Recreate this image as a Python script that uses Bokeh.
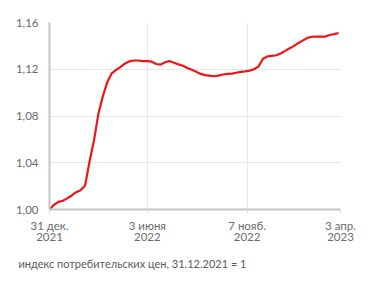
from datetime import datetime
from bokeh.plotting import figure
from bokeh.models import FixedTicker, Range1d, Title
from bokeh.embed import file_html
from bokeh.resources import INLINE

dates = [
    "2021-12-31",
    "2022-01-07", "2022-01-14", "2022-01-21", "2022-01-28",
    "2022-02-04", "2022-02-11", "2022-02-18", "2022-02-25",
    "2022-03-04", "2022-03-11", "2022-03-18", "2022-03-25",
    "2022-04-01", "2022-04-08", "2022-04-15", "2022-04-22", "2022-04-29",
    "2022-05-06", "2022-05-13", "2022-05-20", "2022-05-27",
    "2022-06-03", "2022-06-10", "2022-06-17", "2022-06-24",
    "2022-07-01", "2022-07-08", "2022-07-15", "2022-07-22", "2022-07-29",
    "2022-08-05", "2022-08-12", "2022-08-19", "2022-08-26",
    "2022-09-02", "2022-09-09", "2022-09-16", "2022-09-23", "2022-09-30",
    "2022-10-07", "2022-10-14", "2022-10-21", "2022-10-28",
    "2022-11-04", "2022-11-11", "2022-11-18", "2022-11-25",
    "2022-12-02", "2022-12-09", "2022-12-16", "2022-12-23", "2022-12-30",
    "2023-01-06", "2023-01-13", "2023-01-20", "2023-01-27",
    "2023-02-03", "2023-02-10", "2023-02-17", "2023-02-24",
    "2023-03-03", "2023-03-10", "2023-03-17", "2023-03-24", "2023-03-31",
]
cpi = [
    1.000,
    1.004, 1.0065, 1.0075, 1.0095,
    1.012, 1.0148, 1.0165, 1.0205,
    1.041, 1.059, 1.082, 1.097,
    1.109, 1.1165, 1.1195, 1.122, 1.125,
    1.1268, 1.1275, 1.1275, 1.127,
    1.127, 1.1265, 1.1245, 1.124,
    1.126, 1.127, 1.1255, 1.1242, 1.123,
    1.121, 1.1195, 1.1178, 1.116,
    1.115, 1.1145, 1.114, 1.1145, 1.1155,
    1.116, 1.1163, 1.117, 1.1177,
    1.1182, 1.1188, 1.120, 1.1225,
    1.129, 1.131, 1.1315, 1.132, 1.1335,
    1.1357, 1.138, 1.140, 1.1425,
    1.1447, 1.1468, 1.1478, 1.148,
    1.148, 1.148, 1.1493, 1.150, 1.151,
]
x_tick_dates = ["2021-12-31", "2022-06-03", "2022-11-07", "2023-04-03"]
x_tick_labels = ["31 дек.\n2021", "3 июня\n2022", "7 нояб.\n2022", "3 апр.\n2023"]
y_ticks = [1.00, 1.04, 1.08, 1.12, 1.16]
y_tick_labels = ["1,00", "1,04", "1,08", "1,12", "1,16"]
caption = "индекс потребительских цен, 31.12.2021 = 1"

def to_dt(s):
    return datetime.strptime(s, "%Y-%m-%d")

def to_ms(s):
    return (to_dt(s) - datetime(1970, 1, 1)).total_seconds() * 1000.0

xs = [to_dt(d) for d in dates]
x_ticks = [to_ms(d) for d in x_tick_dates]

FONT = "Lato"

p = figure(width=371, height=288, output_backend="svg", toolbar_location=None,
           x_range=Range1d(x_ticks[0], x_ticks[-1]), y_range=Range1d(1.0, 1.16),
           min_border_left=49, min_border_right=31, min_border_top=22, min_border_bottom=79)
p.outline_line_color = None
p.background_fill_color = "white"
p.border_fill_color = "white"

p.line(xs, cpi, line_color="#f01414", line_width=2.2)

for ax, ticks, labels in ((p.xaxis[0], x_ticks, x_tick_labels), (p.yaxis[0], y_ticks, y_tick_labels)):
    ax.ticker = FixedTicker(ticks=ticks)
    ax.major_label_overrides = {t: l for t, l in zip(ticks, labels)}
    ax.minor_tick_line_color = None
    ax.axis_line_color = "#c4c4c4"
    ax.axis_line_width = 2
    ax.major_tick_line_color = "#dddddd"
    ax.major_tick_out = 4
    ax.major_tick_in = 0
    ax.major_label_text_font = FONT
    ax.major_label_text_font_size = "11.5px"
    ax.major_label_text_color = "#6a6a6a"

p.yaxis.major_tick_line_color = None
p.yaxis.major_label_standoff = 7
p.xaxis.major_label_standoff = 5
p.xaxis.major_label_text_line_height = 0.85

p.grid.grid_line_color = "#e8e8e8"
p.xgrid.ticker = FixedTicker(ticks=x_ticks)
p.ygrid.ticker = FixedTicker(ticks=y_ticks)

p.add_layout(Title(text=caption, align="left", offset=-31, standoff=18,
                   text_font=FONT, text_font_size="11px", text_font_style="normal",
                   text_color="#5a5a5a"), "below")

open("out.html", "w").write(file_html(p, INLINE))
